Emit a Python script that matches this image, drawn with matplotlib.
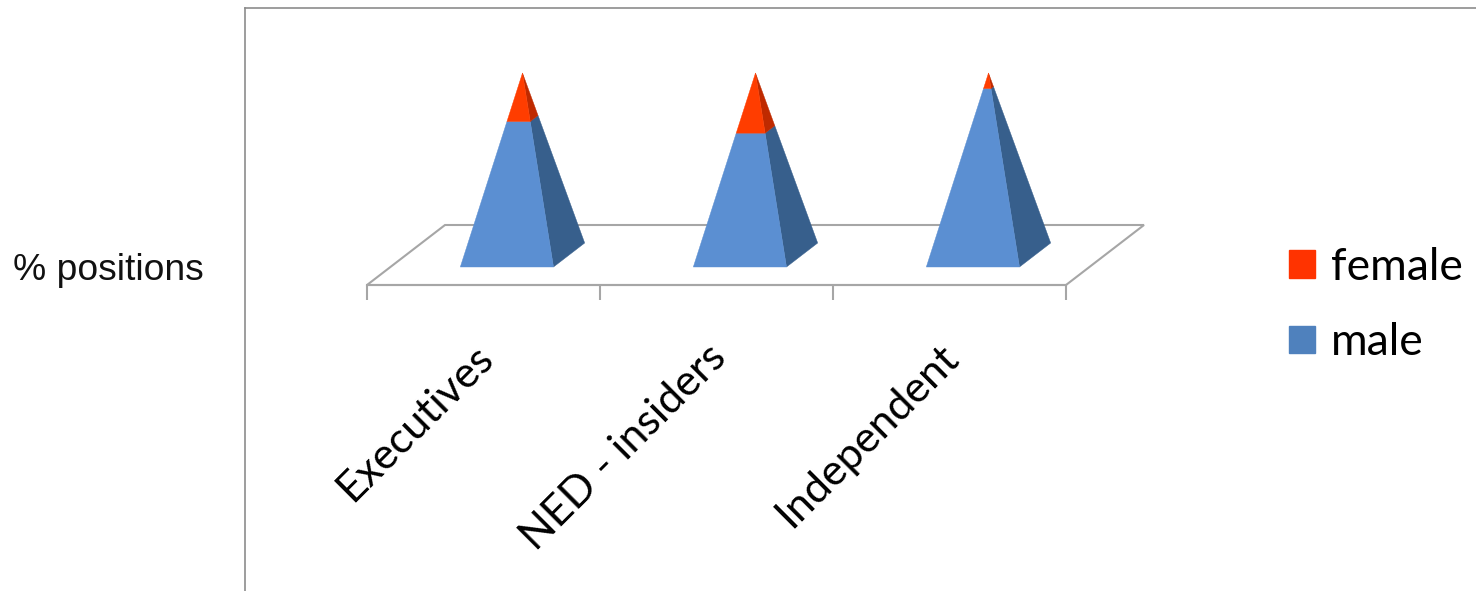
import matplotlib
matplotlib.use("Agg")
import matplotlib.pyplot as plt
from matplotlib.lines import Line2D
from matplotlib.patches import Patch

categories = ['Executives', 'NED - insiders', 'Independent']
male = [75, 69, 92]
female = [25, 31, 8]

W, H = 1476, 591
fig = plt.figure(figsize=(W / 100, H / 100), dpi=100)

# axes box runs along the front edge of the floor, 0-100 is the pyramid height
ax = fig.add_axes([367 / W, 1 - 285 / H, 699 / W, 182 / H])
ax.set_xlim(-0.5, 2.5)
ax.set_ylim(0, 100)
ax.patch.set_visible(False)

# shear used to fake the depth of the 3D floor
SHEAR_X = 78 / 233
SHEAR_Y = 60 / 1.82
BAR_W = 0.4
D_FRONT = 0.3
D_BACK = 0.7


def project(x, v, d):
    return x + d * SHEAR_X, v + d * SHEAR_Y


# floor
floor = [project(-0.5, 0, 0), project(2.5, 0, 0), project(2.5, 0, 1), project(-0.5, 0, 1)]
ax.fill([p[0] for p in floor], [p[1] for p in floor], facecolor='white',
        edgecolor='#a6a6a6', linewidth=1.5, clip_on=False, zorder=1)


def section(x, v0, v1, front_col, side_col):
    # corners of the base and the apex, cut between two cumulative values
    left = (x - BAR_W / 2, D_FRONT)
    right = (x + BAR_W / 2, D_FRONT)
    back = (x + BAR_W / 2, D_BACK)
    apex_d = (D_FRONT + D_BACK) / 2

    def at(corner, v):
        t = v / 100
        return project(corner[0] + (x - corner[0]) * t, v, corner[1] + (apex_d - corner[1]) * t)

    for a, b, col in [(right, back, side_col), (left, right, front_col)]:
        pts = [at(a, v0), at(b, v0), at(b, v1), at(a, v1)]
        ax.fill([p[0] for p in pts], [p[1] for p in pts], facecolor=col,
                edgecolor=col, linewidth=0.3, clip_on=False, zorder=3)


for i in range(len(categories)):
    section(i, 0, male[i], '#5b8fd2', '#375f8c')
    section(i, male[i], male[i] + female[i], '#ff3d00', '#bf2a00')

for s in ['top', 'left', 'right']:
    ax.spines[s].set_visible(False)
ax.spines['bottom'].set_color('#a6a6a6')
ax.spines['bottom'].set_linewidth(1.5)
ax.spines['bottom'].set_zorder(2)
ax.set_yticks([])
ax.set_xticks([-0.5, 0.5, 1.5, 2.5])
ax.set_xticklabels([])
ax.tick_params(axis='x', which='major', length=11, width=1.5, color='#a6a6a6')
# labels sit a little left of the category centre
ax.set_xticks([i - 0.045 for i in range(len(categories))], categories, minor=True, rotation=45,
              ha='right', rotation_mode='anchor', fontsize=31, family='Lato', color='black')
ax.tick_params(axis='x', which='minor', length=0, pad=38)

# outer frame of the chart area
fig.add_artist(Line2D([245 / W, 245 / W], [0, 1 - 8 / H], color='#8c8c8c', linewidth=1.2))
fig.add_artist(Line2D([245 / W, 1], [1 - 8 / H, 1 - 8 / H], color='#8c8c8c', linewidth=1.2))

fig.text(13 / W, 1 - 270 / H, '% positions', fontsize=26.8, family='Liberation Sans',
         va='center', ha='left', color='#111111')

handles = [Patch(color='#ff3300', label='female'), Patch(color='#4f81bd', label='male')]
fig.legend(handles=handles, loc='center left', bbox_to_anchor=(1289 / W, 1 - 305 / H),
           frameon=False, prop={'family': 'Lato', 'size': 32}, handlelength=0.58,
           handleheight=0.58, handletextpad=0.36, labelspacing=0.78, borderpad=0, borderaxespad=0)

fig.savefig('out.png', dpi=100)
